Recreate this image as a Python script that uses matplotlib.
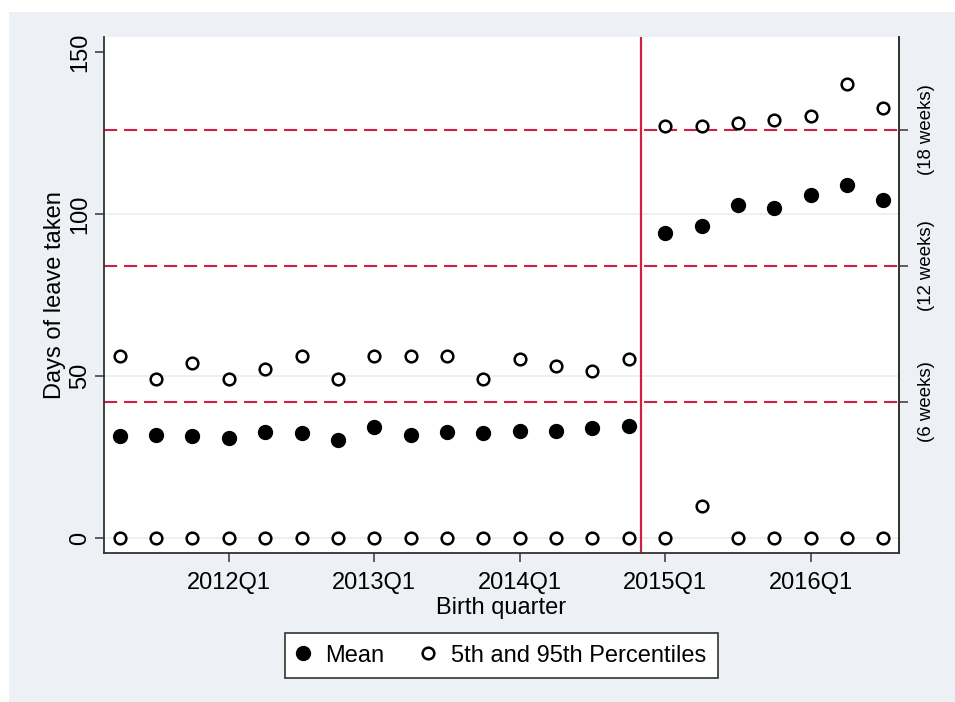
import numpy as np
import matplotlib
matplotlib.use("Agg")
import matplotlib.pyplot as plt
from matplotlib.patches import Rectangle

plt.rcParams["font.family"] = ["Liberation Sans", "DejaVu Sans"]

# birth quarters 2011Q2 .. 2016Q3
quarters = ["2011Q2", "2011Q3", "2011Q4", "2012Q1", "2012Q2", "2012Q3", "2012Q4",
            "2013Q1", "2013Q2", "2013Q3", "2013Q4", "2014Q1", "2014Q2", "2014Q3",
            "2014Q4", "2015Q1", "2015Q2", "2015Q3", "2015Q4", "2016Q1", "2016Q2",
            "2016Q3"]
mean_days = [31.5, 31.8, 31.5, 30.9, 32.7, 32.4, 30.2, 34.3, 31.8, 32.7, 32.4,
             33.2, 33.0, 34.0, 34.6, 94.1, 96.3, 102.8, 101.9, 105.9, 109.0, 104.3]
p95_days = [56.2, 49.1, 54.0, 49.1, 52.2, 56.2, 49.1, 56.2, 56.2, 56.2, 49.1,
            55.2, 53.1, 51.5, 55.2, 127.2, 127.2, 128.1, 129.0, 130.2, 140.1, 132.7]
p5_days = [0, 0, 0, 0, 0, 0, 0, 0, 0, 0, 0, 0, 0, 0, 0, 0, 10, 0, 0, 0, 0, 0]
week_lines = [42, 84, 126]
week_labels = ["(6 weeks)", "(12 weeks)", "(18 weeks)"]
reform_pos = 14.33  # policy change, between 2014Q4 and 2015Q1

red = "#cf1f45"
spine_col = "#333333"
fs = 17
x = np.arange(len(quarters))

fig = plt.figure(figsize=(9.55, 7.02), dpi=100, facecolor="white")
fig.patches.append(Rectangle((9 / 955, 0), 946 / 955, 690 / 702,
                             transform=fig.transFigure, facecolor="#edf1f6",
                             edgecolor="none", zorder=-10))
ax = fig.add_axes([0.1089, 0.2118, 0.8322, 0.7359])
ax.set_facecolor("white")

for v in week_lines:
    ax.axhline(v, color=red, lw=1.5, dashes=(6.3, 3.3), zorder=2)
ax.axvline(reform_pos, color=red, lw=1.6, zorder=2)

ax.plot(x, mean_days, "o", color="black", ms=10, zorder=3, label="Mean")
ax.plot(x, p95_days, "o", mfc="white", mec="black", ms=8.4, mew=1.8, zorder=3,
        label="5th and 95th Percentiles")
ax.plot(x, p5_days, "o", mfc="white", mec="black", ms=8.4, mew=1.8, zorder=3)

ax.set_xlim(-0.43, 21.42)
ax.set_ylim(-4.7, 154.8)
ax.set_yticks([0, 50, 100, 150])
ax.set_yticklabels(["0", "50", "100", "150"], rotation=90, va="center")
tick_idx = [quarters.index(q) for q in ["2012Q1", "2013Q1", "2014Q1", "2015Q1", "2016Q1"]]
ax.set_xticks(tick_idx)
ax.set_xticklabels([quarters[i] for i in tick_idx])
ax.grid(axis="y", color="#e9eef4", lw=1.2, zorder=1)
ax.get_ygridlines()[-1].set_visible(False)
ax.set_axisbelow(True)

for s in ["left", "bottom", "right"]:
    ax.spines[s].set_color(spine_col)
    ax.spines[s].set_linewidth(1.3)
ax.spines["top"].set_visible(False)
ax.tick_params(axis="both", length=6.5, width=1.1, color=spine_col, labelsize=fs)
ax.tick_params(axis="x", pad=7)
ax.tick_params(axis="y", pad=3)
ax.set_xlabel("Birth quarter", fontsize=fs, labelpad=2)
ax.set_ylabel("Days of leave taken", fontsize=fs, labelpad=2)

ax2 = ax.twinx()
ax2.set_ylim(ax.get_ylim())
ax2.set_yticks(week_lines)
ax2.set_yticklabels(week_labels, rotation=90, va="center", fontsize=13.4)
ax2.tick_params(axis="y", length=6.5, width=1.1, color=spine_col, pad=7)
ax2.spines["right"].set_color(spine_col)
ax2.spines["right"].set_linewidth(1.3)
for s in ["left", "top", "bottom"]:
    ax2.spines[s].set_visible(False)

leg = fig.legend(loc="center", bbox_to_anchor=(0.525, 0.066), ncol=2,
                 fontsize=fs, frameon=True, fancybox=False, edgecolor="#333333",
                 framealpha=1, handletextpad=0.66, columnspacing=1.58,
                 handlelength=0.55, borderpad=0.5)
leg.get_frame().set_linewidth(1.2)

plt.savefig("out.png", dpi=100)
